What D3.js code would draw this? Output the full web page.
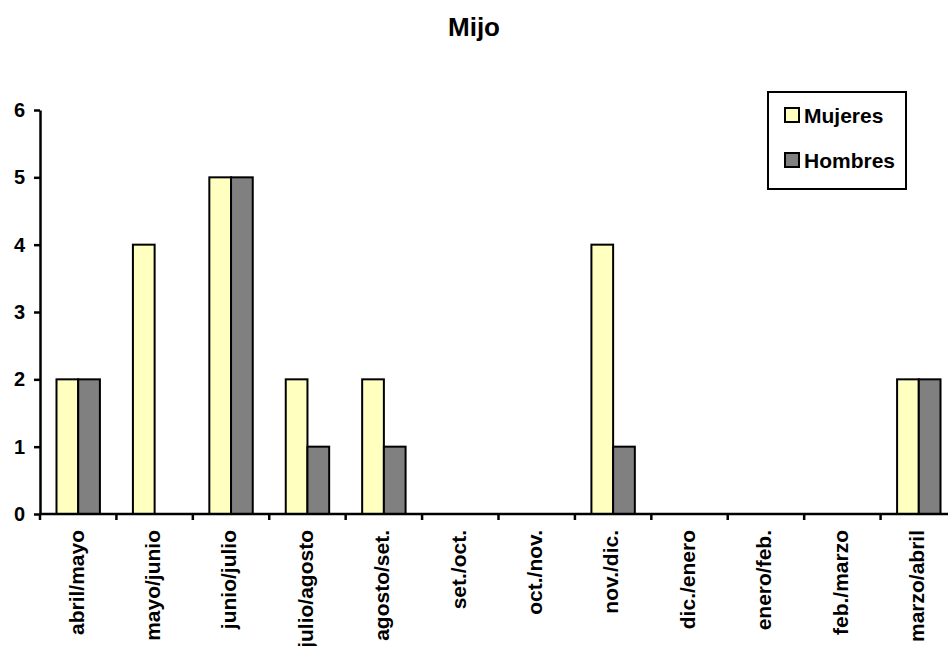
<!DOCTYPE html>
<html>
<head>
<meta charset="utf-8">
<script src="https://cdn.jsdelivr.net/npm/d3@7"></script>
<style>
  body { margin: 0; background: #fff; }
  text { font-family: "Liberation Sans", Arial, sans-serif; font-weight: bold; }
</style>
</head>
<body>
<script>
// data
const categories = ["abril/mayo", "mayo/junio", "junio/julio", "julio/agosto", "agosto/set.",
  "set./oct.", "oct./nov.", "nov./dic.", "dic./enero", "enero/feb.", "feb./marzo", "marzo/abril"];
const series = ["Mujeres", "Hombres"];
const mujeres = [2, 4, 5, 2, 2, 0, 0, 4, 0, 0, 0, 2];
const hombres = [2, 0, 5, 1, 1, 0, 0, 1, 0, 0, 0, 2];
const yTicks = [0, 1, 2, 3, 4, 5, 6];
const colors = { Mujeres: "#ffffc0", Hombres: "#808080" };

const values = { Mujeres: mujeres, Hombres: hombres };

const W = 948, H = 646;
const plotLeft = 40, plotRight = 957, plotTop = 110, plotBottom = 514;

const svg = d3.select("body").append("svg")
    .attr("width", W)
    .attr("height", H);

// title
svg.append("text")
    .attr("x", W / 2)
    .attr("y", 36)
    .attr("text-anchor", "middle")
    .attr("font-size", "26px")
    .text("Mijo");

// scales
const x = d3.scaleBand()
    .domain(categories)
    .range([plotLeft, plotRight])
    .padding(0);

const x1 = d3.scaleBand()
    .domain(series)
    .range([0, x.bandwidth()])
    .paddingInner(0)
    .paddingOuter(0.76);

const y = d3.scaleLinear()
    .domain([0, 6])
    .range([plotBottom, plotTop]);

// bars
const groups = svg.append("g")
  .selectAll("g")
  .data(categories)
  .enter()
  .append("g")
    .attr("transform", d => "translate(" + x(d) + ",0)");

groups.selectAll("rect")
  .data((d, i) => series.map(s => ({ s: s, v: values[s][i] })))
  .enter()
  .append("rect")
    .attr("x", d => x1(d.s))
    .attr("y", d => y(d.v))
    .attr("width", x1.bandwidth())
    .attr("height", d => plotBottom - y(d.v))
    .attr("fill", d => colors[d.s])
    .attr("stroke", "#000")
    .attr("stroke-width", 2);

// y axis
const yAxis = svg.append("g")
    .attr("transform", "translate(" + plotLeft + ",0)")
    .call(d3.axisLeft(y).tickValues(yTicks).tickFormat(d3.format("d"))
      .tickSize(6).tickPadding(9).tickSizeOuter(0));
yAxis.select(".domain").attr("stroke-width", 2.5);
yAxis.selectAll(".tick line").attr("stroke-width", 2.5);
yAxis.selectAll("text").attr("font-size", "20px").attr("fill", "#000");

// x axis
const xg = svg.append("g");
xg.append("line")
    .attr("x1", plotLeft).attr("x2", plotRight)
    .attr("y1", plotBottom).attr("y2", plotBottom)
    .attr("stroke", "#000").attr("stroke-width", 2.5);
xg.selectAll(".xt")
  .data(categories)
  .enter()
  .append("line")
    .attr("x1", d => x(d)).attr("x2", d => x(d))
    .attr("y1", plotBottom).attr("y2", plotBottom + 6)
    .attr("stroke", "#000").attr("stroke-width", 2.5);
xg.selectAll(".xl")
  .data(categories)
  .enter()
  .append("text")
    .attr("transform", d => "translate(" + (x(d) + x.bandwidth() / 2 - 2) + "," + (plotBottom + 16) + ") rotate(-90)")
    .attr("text-anchor", "end")
    .attr("dy", "0.35em")
    .attr("font-size", "21px")
    .text(d => d);

// legend
const legend = svg.append("g");
legend.append("rect")
    .attr("x", 768).attr("y", 92)
    .attr("width", 138).attr("height", 97)
    .attr("fill", "#fff")
    .attr("stroke", "#000")
    .attr("stroke-width", 2);
series.forEach((s, i) => {
  legend.append("rect")
      .attr("x", 785).attr("y", 108 + i * 45)
      .attr("width", 14).attr("height", 14)
      .attr("fill", colors[s])
      .attr("stroke", "#000")
      .attr("stroke-width", 2);
  legend.append("text")
      .attr("x", 804).attr("y", 123 + i * 45)
      .attr("font-size", "21px")
      .text(s);
});
</script>
</body>
</html>
